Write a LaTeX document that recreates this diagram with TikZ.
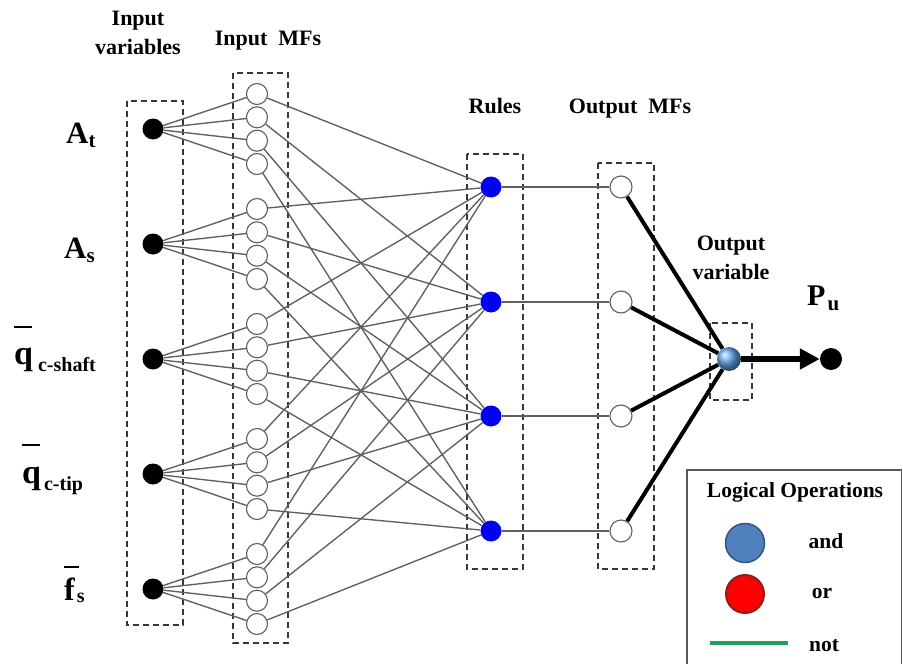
\documentclass[tikz,border=0pt]{standalone}
\usepackage{fontspec}
\setmainfont{Liberation Serif}
\usetikzlibrary{arrows.meta}
\definecolor{lgray}{RGB}{95,95,95}
\definecolor{dgray}{RGB}{55,55,55}
\definecolor{rblue}{RGB}{0,0,245}
\definecolor{oblue}{RGB}{100,170,235}
\definecolor{legblue}{RGB}{79,129,189}
\definecolor{legbluedark}{RGB}{50,85,130}
\definecolor{legred}{RGB}{255,0,0}
\definecolor{legreddark}{RGB}{140,30,30}
\definecolor{leggreen}{RGB}{35,160,95}
\tikzset{
  dbox/.style={draw=dgray, line width=1.2pt, dash pattern=on 6pt off 4pt},
  conn/.style={draw=lgray, line width=1.35pt},
  bconn/.style={draw=black, line width=4pt},
  indot/.style={circle, fill=black, minimum size=21pt, inner sep=0pt},
  mfnode/.style={circle, draw=lgray, fill=white, line width=1.1pt, minimum size=21pt, inner sep=0pt},
  rulenode/.style={circle, fill=rblue, minimum size=21pt, inner sep=0pt},
  hdr/.style={font=\fontsize{22}{29}\selectfont\bfseries, align=center, inner sep=0pt},
  lbl/.style={anchor=base west, inner sep=0pt, font=\bfseries},
  legtxt/.style={anchor=base, inner sep=0pt, font=\fontsize{21.5}{21.5}\selectfont\bfseries},
}
\begin{document}
\begin{tikzpicture}[x=1pt, y=-1pt]
\clip (0,0) rectangle (903,664);
\fill[white] (0,0) rectangle (903,664);

% dashed group boxes
\draw[dbox] (127,101) rectangle (183,625);
\draw[dbox] (233,73) rectangle (288,643);
\draw[dbox] (467,154) rectangle (523,569);
\draw[dbox] (598,163) rectangle (654,569);
\draw[dbox] (710,323) rectangle (752,400);

% input variables and their membership functions
\foreach \i/\y in {1/129,2/244,3/359,4/474,5/589} {
  \node[indot] (in\i) at (153,\y) {};
  \foreach \j/\o in {1/-35,2/-11.7,3/11.7,4/35} {
    \node[mfnode] (mf\i\j) at (257,{\y+\o}) {};
  }
}
% rules and output MFs
\foreach \j/\y in {1/187,2/302,3/416,4/531} {
  \node[rulenode] (r\j) at (491,\y) {};
  \node[mfnode, minimum size=22pt] (o\j) at (621,\y) {};
}
\node[circle, minimum size=24pt, inner sep=0pt, ball color=oblue] (out) at (729,359) {};
\node[indot, minimum size=22pt] (pu) at (831,359) {};

% connectors
\foreach \i in {1,...,5} {
  \foreach \j in {1,...,4} {
    \draw[conn] (in\i) -- (mf\i\j);
    \draw[conn] (mf\i\j) -- (r\j);
  }
}
\foreach \j in {1,...,4} {
  \draw[conn] (r\j) -- (o\j);
  \draw[bconn] (o\j) -- (out);
}
\draw[line width=6pt, -{Triangle[length=20pt,width=20pt]}] (out) -- (pu);

% headers
\node[hdr] (hin) at (138,33) {Input\\variables};
\node[hdr, anchor=base] (hmf) at (268,45) {Input~~MFs};
\node[hdr, anchor=base] (hrule) at (495,113) {Rules};
\node[hdr, anchor=base] (homf) at (630,113) {Output~~MFs};
\node[hdr] (hout) at (731,258) {Output\\variable};

% input labels
\node[lbl] (lat) at (66,143) {{\fontsize{31}{31}\selectfont A}\raisebox{-4pt}{\fontsize{21}{21}\selectfont t}};
\node[lbl] (las) at (64,258) {{\fontsize{31}{31}\selectfont A}\raisebox{-4pt}{\fontsize{21}{21}\selectfont s}};
\node[lbl] (lqs) at (14,364) {{\fontsize{34}{34}\selectfont\rlap{\raisebox{36pt}{\rule{18pt}{1.7pt}}}q}\hspace{5pt}\raisebox{-7pt}{\fontsize{20}{20}\selectfont c-shaft}};
\node[lbl] (lqt) at (22,483) {{\fontsize{34}{34}\selectfont\rlap{\raisebox{37pt}{\rule{18pt}{1.7pt}}}q}\hspace{3pt}\raisebox{-7pt}{\fontsize{20}{20}\selectfont c-tip}};
\node[lbl] (lfs) at (64,600) {{\fontsize{32}{32}\selectfont\rlap{\raisebox{32pt}{\rule{15pt}{1.7pt}}}f}\hspace{2pt}\raisebox{-2pt}{\fontsize{20}{20}\selectfont s}};
\node[lbl] (lpu) at (807,305) {{\fontsize{30}{30}\selectfont P}\hspace{2pt}\raisebox{-5pt}{\fontsize{21}{21}\selectfont u}};

% legend
\draw[draw=gray!70!black, line width=1.5pt] (687,470) rectangle (901.5,690);
\node[legtxt] (legt) at (795,497) {Logical Operations};
\node[circle, fill=legblue, draw=legbluedark, line width=1.5pt, minimum size=39pt, inner sep=0pt] (legand) at (745,543) {};
\node[circle, fill=legred, draw=legreddark, line width=2pt, minimum size=38pt, inner sep=0pt] (legor) at (745,594) {};
\coordinate (g1) at (710,643);
\coordinate (g2) at (788,643);
\draw[leggreen, line width=4pt] (g1) -- (g2);
\node[legtxt] (tand) at (826,548) {and};
\node[legtxt] (tor) at (822,598) {or};
\node[legtxt] (tnot) at (824,651) {not};
\end{tikzpicture}
\end{document}
